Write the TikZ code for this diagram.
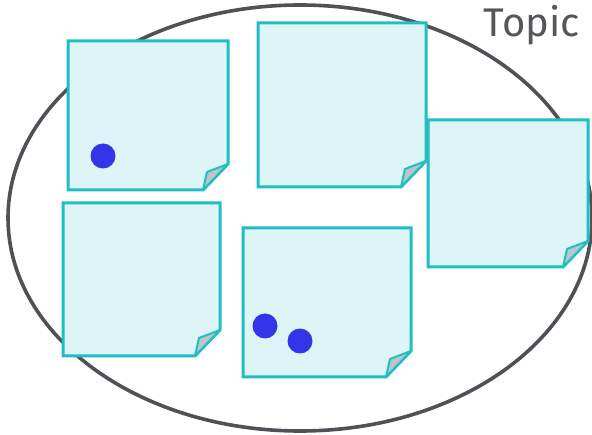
\documentclass[tikz,border=0pt]{standalone}
\usepackage{fontspec}
\setmainfont{Fira Sans}
\definecolor{ringc}{RGB}{80,80,86}
\definecolor{notefill}{RGB}{221,245,246}
\definecolor{notedraw}{RGB}{32,190,196}
\definecolor{foldfill}{RGB}{186,198,200}
\definecolor{dotc}{RGB}{52,52,232}
\definecolor{textc}{RGB}{85,85,90}
\tikzset{
  ring/.style={draw=ringc, line width=3.6pt},
  notebody/.style={draw=notedraw, fill=notefill, line width=3pt, line join=miter},
  notefold/.style={draw=notedraw, fill=foldfill, line width=2pt, line join=round},
  pin/.style={fill=dotc, draw=none},
  topiclabel/.style={text=textc, font=\fontsize{40}{44}\selectfont, inner sep=0pt, anchor=base east}
}
% #1,#2 = top-left, #3,#4 = bottom-right
\newcommand\stickynote[4]{%
  \path[notebody] (#1,#2) -- (#3,#2) -- (#3,#4-26) -- (#3-25,#4) -- (#1,#4) -- cycle;
  \path[notefold] (#3-25,#4) -- (#3-21,#4-18) -- (#3,#4-26) -- cycle;
}
\begin{document}
\begin{tikzpicture}[x=1pt,y=-1pt]
\useasboundingbox (0,0) rectangle (592,435);
\draw[ring] (300,218) ellipse [x radius=292, y radius=213];
\stickynote{68}{41}{228}{190}
\stickynote{258}{23}{426}{187}
\stickynote{428}{120}{588}{267}
\stickynote{63}{203}{220}{356}
\stickynote{243}{228}{411}{377}
\fill[pin] (103,156) circle [radius=12.5];
\fill[pin] (265,326) circle [radius=12.5];
\fill[pin] (300,341) circle [radius=12.5];
\node[topiclabel] (topic) at (580,37) {Topic};
\end{tikzpicture}
\end{document}
